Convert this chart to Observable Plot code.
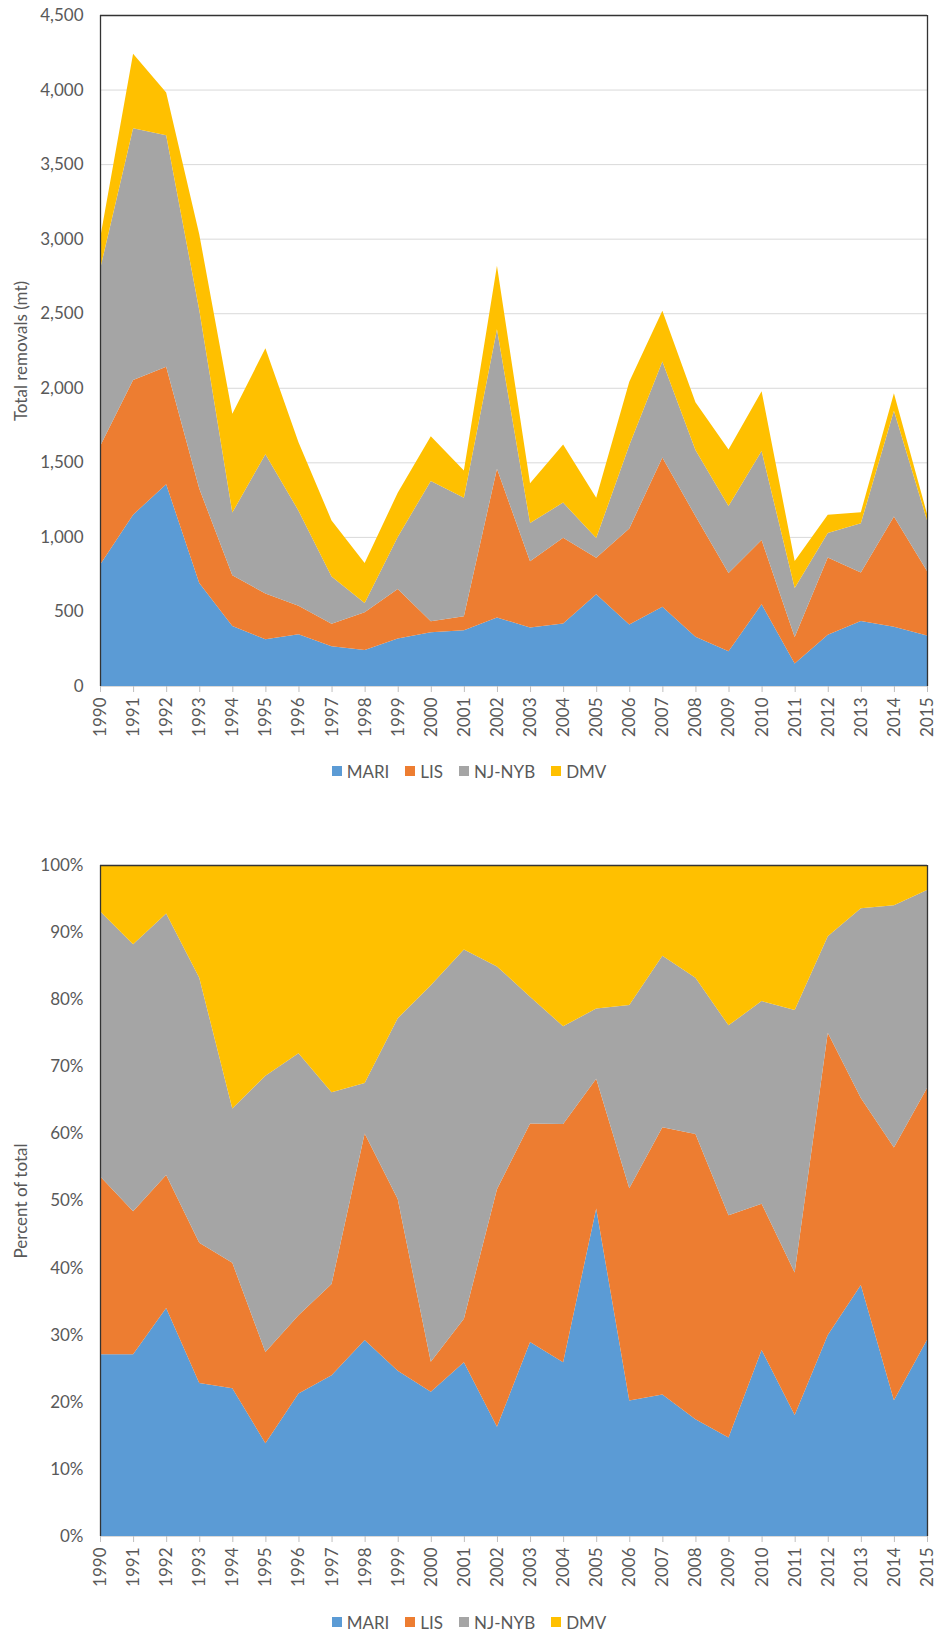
<!DOCTYPE html>
<html>
<head>
<meta charset="utf-8">
<script src="https://cdn.jsdelivr.net/npm/d3@7"></script>
<script src="https://cdn.jsdelivr.net/npm/@observablehq/plot@0.6"></script>
<style>
  html, body { margin: 0; padding: 0; background: #fff; }
  body { width: 938px; height: 1633px; overflow: hidden; font-family: Lato, "Open Sans", sans-serif; }
  .legend { display: flex; justify-content: center; align-items: center; color: #595959; font-size: 17px; }
  .legend .item { display: flex; align-items: center; margin: 0 8px; }
  .legend .sw { width: 10px; height: 10px; margin-right: 5px; }
  #l1 { height: 32px; }
  #l2 { height: 30px; }
</style>
</head>
<body>
<div id="c1"></div>
<div class="legend" id="l1"></div>
<div id="c2"></div>
<div class="legend" id="l2"></div>
<script>
const years = [1990,1991,1992,1993,1994,1995,1996,1997,1998,1999,2000,2001,2002,2003,2004,2005,2006,2007,2008,2009,2010,2011,2012,2013,2014,2015];
const regions = ["MARI", "LIS", "NJ-NYB", "DMV"];
const colors = ["#5B9BD5", "#ED7D31", "#A5A5A5", "#FFC000"];
const mari  = [813,1149,1353,691,402,313,347,266,241,319,360,374,459,393,419,616,412,531,331,233,548,151,344,436,397,338];
const lis   = [795,903,788,633,341,308,191,151,254,332,75,94,998,443,575,244,645,1002,809,525,431,178,517,325,740,433];
const njnyb = [1185,1688,1552,1197,420,933,638,317,62,349,940,795,936,257,236,132,557,644,443,449,597,328,165,330,709,341];
const dmv   = [207,500,287,509,662,711,459,376,268,296,300,182,426,267,389,270,426,340,320,379,401,181,122,75,118,43];
const yTicksTop = [0,500,1000,1500,2000,2500,3000,3500,4000,4500];
const yTicksBottom = [0,0.1,0.2,0.3,0.4,0.5,0.6,0.7,0.8,0.9,1];

const series = [mari, lis, njnyb, dmv];
const tidy = regions.flatMap((r, i) => years.map((y, j) => ({year: y, region: r, value: series[i][j]})));

const font = "Lato, 'Open Sans', sans-serif";
const textColor = "#595959";

function chart({height, marginTop, marginBottom, yDomain, yTicks, yFormat, yLabel, offset}) {
  return Plot.plot({
    width: 938,
    height,
    marginTop,
    marginBottom,
    marginLeft: 100,
    marginRight: 11,
    style: {fontFamily: font, fontSize: "17px", color: textColor, background: "white", overflow: "visible"},
    x: {domain: [1990, 2015]},
    y: {domain: yDomain},
    color: {domain: regions, range: colors},
    marks: [
      Plot.gridY(yTicks, {stroke: "#d9d9d9", strokeOpacity: 1}),
      Plot.areaY(tidy, {x: "year", y: "value", fill: "region", offset}),
      Plot.ruleY([yDomain[1]], {stroke: "#333", strokeWidth: 1.3}),
      Plot.ruleX([1990, 2015], {stroke: "#333", strokeWidth: 1.3}),
      Plot.ruleY([0], {stroke: "#d9d9d9"}),
      Plot.axisY(yTicks, {tickFormat: yFormat, tickSize: 0, tickPadding: 17, fill: textColor, label: null}),
      Plot.text([yLabel], {frameAnchor: "left", rotate: -90, dx: -79, textAnchor: "middle", lineAnchor: "middle",
        fill: textColor, fontSize: 17}),
      Plot.axisX(years, {tickFormat: d3.format("d"), tickRotate: -90, tickSize: 6, tickPadding: 5,
        stroke: "#bfbfbf", fill: textColor, label: null})
    ]
  });
}

document.getElementById("c1").append(chart({
  height: 755, marginTop: 15, marginBottom: 69,
  yDomain: [0, 4500], yTicks: yTicksTop, yFormat: d3.format(","),
  yLabel: "Total removals (mt)", offset: null
}));
document.getElementById("c2").append(chart({
  height: 820, marginTop: 78, marginBottom: 71,
  yDomain: [0, 1], yTicks: yTicksBottom, yFormat: d3.format(".0%"),
  yLabel: "Percent of total", offset: "normalize"
}));

function legend(el) {
  regions.forEach((r, i) => {
    const item = document.createElement("div");
    item.className = "item";
    const sw = document.createElement("span");
    sw.className = "sw";
    sw.style.background = colors[i];
    const t = document.createElement("span");
    t.textContent = r;
    item.append(sw, t);
    el.append(item);
  });
}
legend(document.getElementById("l1"));
legend(document.getElementById("l2"));
</script>
</body>
</html>
